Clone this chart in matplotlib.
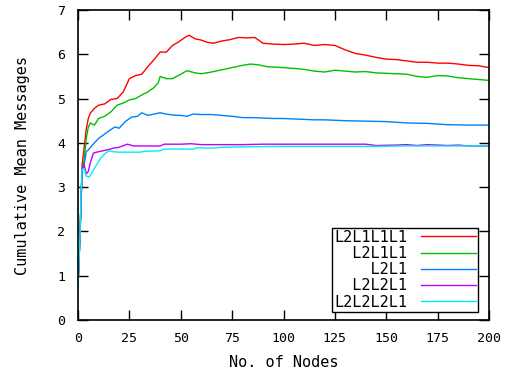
import matplotlib
matplotlib.use('Agg')
import matplotlib.pyplot as plt
import numpy as np

# Curvas (nó, média acumulada de mensagens)
x_red = [0, 1, 2, 3, 4, 5, 6, 8, 10, 13, 16, 19, 22, 25, 28, 31, 34, 37, 40, 43, 46, 49, 52, 54, 57, 60,
         63, 66, 70, 74, 78, 82, 86, 90, 95, 100, 105, 110, 115, 120, 125, 130, 135, 140, 145, 150,
         155, 160, 165, 170, 175, 180, 185, 190, 195, 200]
y_red = [0.75, 1.96, 3.5, 3.9, 4.3, 4.55, 4.67, 4.78, 4.85, 4.88, 4.98, 5.0, 5.15, 5.45, 5.52, 5.55, 5.72,
         5.88, 6.05, 6.05, 6.2, 6.28, 6.38, 6.43, 6.35, 6.32, 6.27, 6.25, 6.3, 6.33, 6.38, 6.37, 6.38,
         6.25, 6.23, 6.22, 6.23, 6.25, 6.2, 6.22, 6.2, 6.1, 6.02, 5.98, 5.93, 5.89, 5.88, 5.85, 5.82,
         5.82, 5.8, 5.8, 5.78, 5.75, 5.74, 5.7]

x_green = [0, 1, 2, 3, 4, 5, 6, 8, 10, 13, 16, 19, 22, 25, 28, 31, 34, 37, 39, 40, 43, 46, 50, 53, 57,
           60, 65, 70, 75, 80, 84, 88, 92, 96, 100, 105, 110, 115, 120, 125, 130, 135, 140, 145, 150,
           155, 160, 165, 170, 175, 180, 185, 190, 195, 200]
y_green = [0.75, 1.96, 3.4, 3.6, 4.1, 4.35, 4.45, 4.4, 4.55, 4.6, 4.7, 4.85, 4.9, 4.97, 5.0, 5.08, 5.15,
           5.25, 5.35, 5.5, 5.45, 5.45, 5.55, 5.63, 5.58, 5.56, 5.6, 5.65, 5.7, 5.75, 5.78, 5.76, 5.72,
           5.71, 5.7, 5.68, 5.66, 5.62, 5.6, 5.64, 5.62, 5.6, 5.61, 5.58, 5.57, 5.56, 5.55, 5.5, 5.48,
           5.52, 5.51, 5.47, 5.45, 5.43, 5.41]

x_blue = [0, 1, 2, 3, 4, 5, 7, 10, 13, 16, 18, 20, 23, 26, 29, 31, 34, 37, 40, 43, 46, 50, 53, 56, 60,
          65, 70, 75, 80, 85, 90, 95, 100, 105, 110, 115, 120, 125, 130, 140, 150, 160, 170, 180,
          190, 200]
y_blue = [0.75, 1.96, 3.4, 3.5, 3.8, 3.84, 3.95, 4.1, 4.2, 4.3, 4.36, 4.33, 4.48, 4.58, 4.6, 4.68, 4.62,
          4.65, 4.68, 4.65, 4.63, 4.62, 4.6, 4.65, 4.64, 4.64, 4.62, 4.6, 4.57, 4.57, 4.56, 4.55,
          4.55, 4.54, 4.53, 4.52, 4.52, 4.51, 4.5, 4.49, 4.48, 4.45, 4.44, 4.41, 4.4, 4.4]

x_mag = [0, 1, 2, 3, 4, 5, 6, 7.5, 10, 12, 15, 17, 20, 24, 27, 35, 40, 42, 50, 55, 60, 70, 80, 90, 100,
         120, 140, 145, 155, 160, 165, 170, 180, 185, 190, 200]
y_mag = [0.75, 1.96, 3.4, 3.5, 3.3, 3.35, 3.55, 3.77, 3.8, 3.82, 3.85, 3.88, 3.9, 3.97, 3.93, 3.93,
         3.93, 3.97, 3.97, 3.98, 3.96, 3.96, 3.96, 3.97, 3.97, 3.97, 3.97, 3.94, 3.95, 3.96, 3.94,
         3.96, 3.94, 3.95, 3.93, 3.93]

x_cyan = [0, 0.5, 1, 1.5, 2, 3, 4, 5.5, 7, 9, 11, 13, 15, 17, 20, 25, 30, 33, 40, 42, 50, 56, 58, 65,
          70, 80, 100, 120, 140, 160, 180, 200]
y_cyan = [0.75, 1.3, 1.96, 2.9, 3.4, 3.42, 3.25, 3.23, 3.35, 3.5, 3.65, 3.75, 3.82, 3.8, 3.79, 3.79,
          3.79, 3.81, 3.82, 3.86, 3.86, 3.86, 3.89, 3.88, 3.9, 3.91, 3.92, 3.92, 3.92, 3.93, 3.93,
          3.93]

series = [
    ('L2L1L1L1', x_red, y_red, '#ff0000'),
    ('  L2L1L1', x_green, y_green, '#00c000'),
    ('    L2L1', x_blue, y_blue, '#0080ff'),
    ('  L2L2L1', x_mag, y_mag, '#c000ff'),
    ('L2L2L2L1', x_cyan, y_cyan, '#00eeee'),
]

x_ticks = [0, 25, 50, 75, 100, 125, 150, 175, 200]
y_ticks = [0, 1, 2, 3, 4, 5, 6, 7]

plt.rcParams['font.family'] = 'DejaVu Sans Mono'
plt.rcParams['font.size'] = 9.5

fig = plt.figure(figsize=(5.24, 3.75), dpi=100)
ax = fig.add_axes([78/524, 55/375, 411/524, 310/375])

for nome, xs, ys, cor in series:
    ax.plot(xs, ys, color=cor, linewidth=1.0, label=nome)

ax.set_xlim(0, 200)
ax.set_ylim(0, 7)
ax.set_xticks(x_ticks)
ax.set_yticks(y_ticks)
ax.tick_params(direction='in', length=7, width=1, top=True, right=True, labelsize=9.5)
ax.tick_params(axis='y', pad=9)
ax.tick_params(axis='x', pad=9)
for s in ax.spines.values():
    s.set_linewidth(1.2)

ax.set_xlabel('No. of Nodes', fontsize=11)
ax.set_ylabel('Cumulative Mean Messages', fontsize=11)
ax.xaxis.set_label_coords(0.5, -0.112)
ax.yaxis.set_label_coords(-0.117, 0.497)

leg = ax.legend(loc='lower right', bbox_to_anchor=(1 - 11/411, 8/310), borderaxespad=0,
                markerfirst=False, fancybox=False, framealpha=1, edgecolor='black',
                handlelength=3.6, labelspacing=0.08, borderpad=0.15, handletextpad=0.9,
                prop={'family': 'DejaVu Sans Mono', 'size': 11})
leg.get_frame().set_linewidth(1.0)

fig.savefig('out.png', dpi=100)
